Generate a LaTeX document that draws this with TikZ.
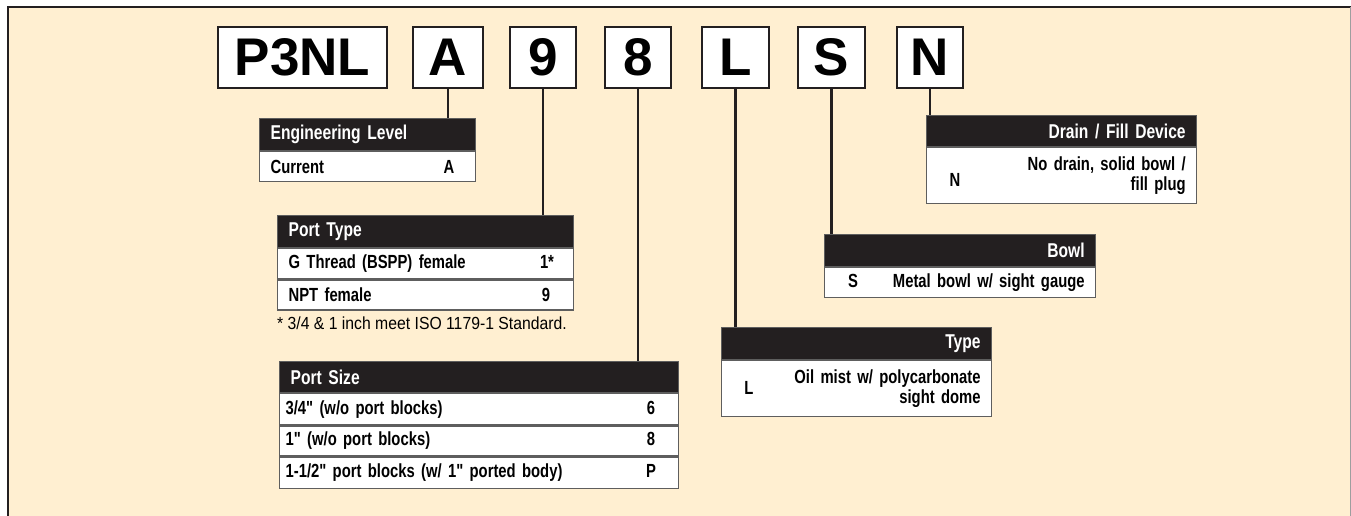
\documentclass[tikz,border=0pt]{standalone}
\usepackage{fontspec}
\setmainfont{Liberation Sans}
\newfontfamily\condfont[FakeStretch=0.78]{Liberation Sans}
\newfontfamily\notefont[FakeStretch=0.9]{Liberation Sans}
\newcommand\hdrfont{\condfont\fontsize{20}{22}\selectfont\bfseries\spaceskip=3.2pt\relax}
\newcommand\rowfont{\condfont\fontsize{19}{20}\selectfont\bfseries\spaceskip=3pt\relax}
\definecolor{cream}{HTML}{FFEFD1}
\definecolor{ink}{HTML}{231F20}
\definecolor{rule}{HTML}{5E5E5E}

\begin{document}
\begin{tikzpicture}[x=1pt, y=-1pt]
	\tikzstyle{codebox}=[draw=ink, line width=2pt, fill=white, minimum height=61pt, inner sep=0pt, font=\fontsize{53}{53}\selectfont\bfseries]
	\tikzstyle{hdr}=[draw=rule, line width=1.2pt, fill=ink, text=white, anchor=north west, minimum height=32pt, inner xsep=11pt, inner ysep=0pt, font=\hdrfont]
	\tikzstyle{row}=[draw=rule, line width=1.2pt, fill=white, anchor=north west, minimum height=30pt, inner xsep=11pt, inner ysep=0pt, font=\rowfont]
	\tikzstyle{val}=[inner sep=0pt, anchor=base, font=\rowfont]
	\tikzstyle{note}=[inner sep=0pt, font=\notefont\fontsize{17.5}{20}\selectfont]
	\tikzstyle{link}=[draw=ink, line width=2.2pt]

	\useasboundingbox (0,0) rectangle (1351,516);
	\fill[white] (0,0) rectangle (1351,516);
	\fill[cream] (8,7) rectangle (1351,516);
	\draw[ink, line width=2pt] (8,516) -- (8,7) -- (1351,7);
	\draw[rule!60, line width=1pt] (1350,7) -- (1350,516);

	\node[codebox, minimum width=169pt] (codeP) at (302.5,57.5) {P3NL};
	\node[codebox, minimum width=70pt] (codeA) at (448,57.5) {A};
	\node[codebox, minimum width=66pt] (code9) at (543,57.5) {9};
	\node[codebox, minimum width=66pt] (code8) at (638,57.5) {8};
	\node[codebox, minimum width=67pt] (codeL) at (735.5,57.5) {L};
	\node[codebox, minimum width=67pt] (codeS) at (831.5,57.5) {S};
	\node[codebox, minimum width=66pt] (codeN) at (930,57.5) {N};

	\node[hdr, text width=194pt, align=left] (EL) at (259,118) {Engineering Level};
	\node[row, text width=194pt, align=left] (ELa) at (EL.south west) {Current};
	\node[val] at (ELa.base -| 449,0) {A};

	\node[hdr, text width=274pt, align=left] (PT) at (277,215) {Port Type};
	\node[row, text width=274pt, align=left] (PTa) at (PT.south west) {G Thread (BSPP) female};
	\node[row, text width=274pt, align=left] (PTb) at (PTa.south west) {NPT female};
	\node[val] at (PTa.base -| 547,0) {1*};
	\node[val] at (PTb.base -| 546,0) {9};
	\node[note, anchor=base west] (PTn) at (277,329) {* 3/4 \& 1 inch meet ISO 1179-1 Standard.};

	\node[hdr, text width=377pt, align=left, minimum height=31pt] (PS) at (279,361) {Port Size};
	\node[row, text width=387pt, align=left, inner xsep=6pt, minimum height=31pt] (PSa) at (PS.south west) {3/4" (w/o port blocks)};
	\node[row, text width=387pt, align=left, inner xsep=6pt] (PSb) at (PSa.south west) {1" (w/o port blocks)};
	\node[row, text width=387pt, align=left, inner xsep=6pt, minimum height=31pt] (PSc) at (PSb.south west) {1-1/2" port blocks (w/ 1" ported body)};
	\node[val] at (PSa.base -| 651,0) {6};
	\node[val] at (PSb.base -| 651,0) {8};
	\node[val] at (PSc.base -| 651,0) {P};

	\node[hdr, text width=248pt, align=right, minimum height=31pt] (DF) at (926,115) {Drain / Fill Device};
	\node[row, text width=248pt, align=right, minimum height=56pt] (DFa) at (DF.south west) {No drain, solid bowl /\\fill plug};
	\node[val, anchor=center] at (955,180) {N};

	\node[hdr, text width=249pt, align=right] (BW) at (824,234) {Bowl};
	\node[row, text width=249pt, align=right] (BWa) at (BW.south west) {Metal bowl w/ sight gauge};
	\node[val] at (BWa.base -| 853,0) {S};

	\node[hdr, text width=248pt, align=right] (TY) at (721,327) {Type};
	\node[row, text width=248pt, align=right, minimum height=56pt] (TYa) at (TY.south west) {Oil mist w/ polycarbonate\\sight dome};
	\node[val, anchor=center] at (749,388) {L};

	\draw[link] (codeA) to (codeA |- EL.north);
	\draw[link] (code9) to (code9 |- PT.north);
	\draw[link] (code8) to (code8 |- PS.north);
	\draw[link] (codeL) to (codeL |- TY.north);
	\draw[link] (codeS) to (codeS |- BW.north);
	\draw[link] (codeN) to (codeN |- DF.north);
\end{tikzpicture}
\end{document}
